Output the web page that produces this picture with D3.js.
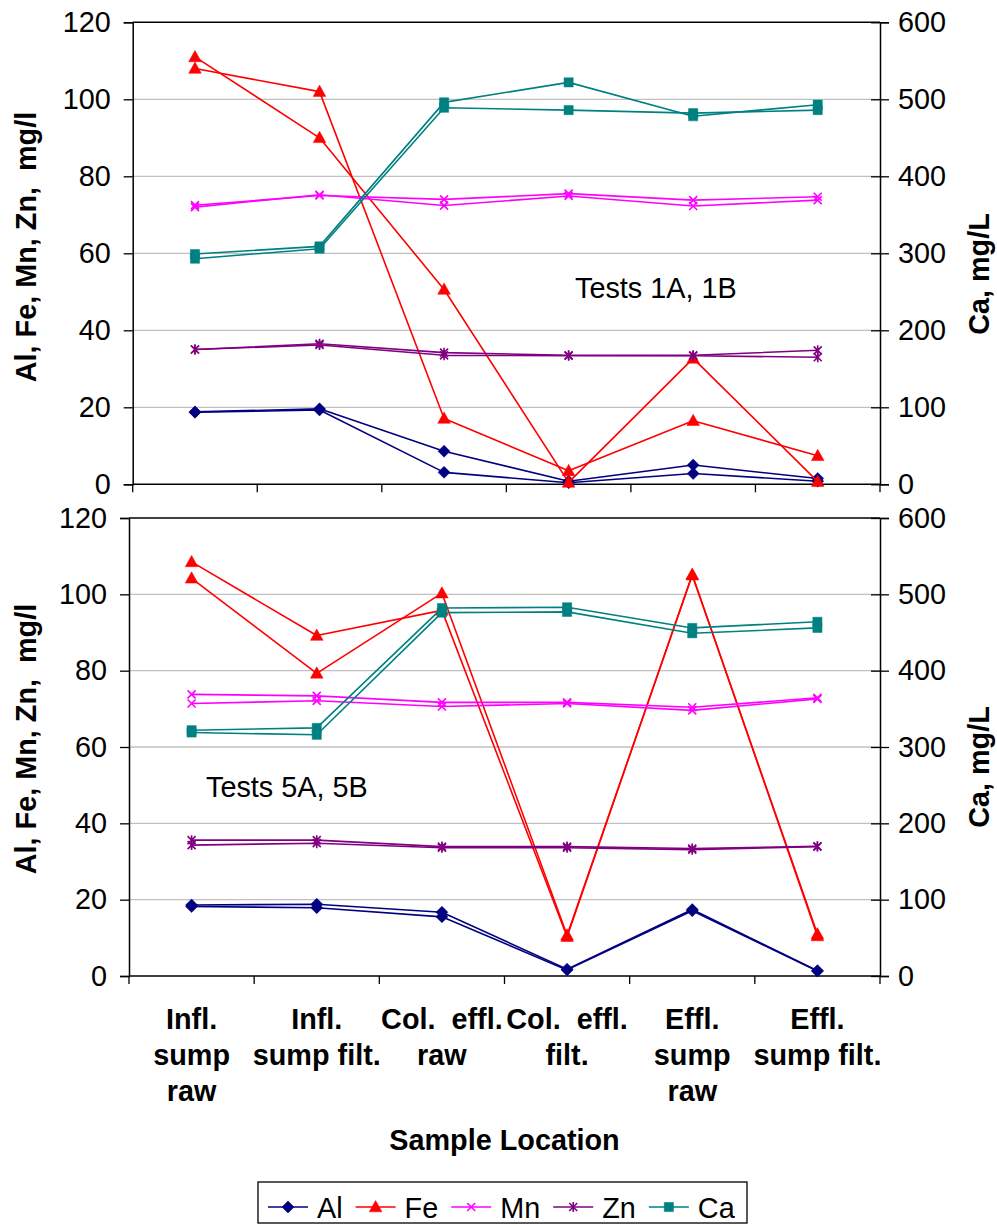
<!DOCTYPE html>
<html>
<head>
<meta charset="utf-8">
<script src="https://cdn.jsdelivr.net/npm/d3@7"></script>
<style>
  html, body { margin: 0; padding: 0; background: #fff; }
  svg { display: block; }
  text { font-family: "Liberation Sans", Arial, sans-serif; }
</style>
</head>
<body>
<script>
// ---------------- DATA ----------------
const categories = ["Infl. sump raw", "Infl. sump filt.", "Col. effl. raw", "Col. effl. filt.", "Effl. sump raw", "Effl. sump filt."];
const categoryLines = [["Infl.", "sump", "raw"], ["Infl.", "sump filt."], ["Col.  effl.", "raw"], ["Col.  effl.", "filt."], ["Effl.", "sump", "raw"], ["Effl.", "sump filt."]];
const seriesNames = ["Al", "Fe", "Mn", "Zn", "Ca"];
const leftTicks = [0, 20, 40, 60, 80, 100, 120];
const rightTicks = [0, 100, 200, 300, 400, 500, 600];

// Tests 1A, 1B (A and B runs)
const t1_Al_A = [18.8, 19.6, 8.6, 0.8, 5.0, 1.5];
const t1_Al_B = [18.7, 19.3, 3.1, 0.4, 2.8, 0.8];
const t1_Fe_A = [108, 102, 17.1, 3.5, 16.5, 7.4];
const t1_Fe_B = [111, 90, 50.6, 0.5, 32.7, 0.7];
const t1_Mn_A = [72.5, 75.0, 74.0, 75.5, 73.8, 74.7];
const t1_Mn_B = [72.0, 75.2, 72.4, 74.9, 72.3, 73.8];
const t1_Zn_A = [35.0, 36.5, 34.2, 33.5, 33.5, 34.8];
const t1_Zn_B = [35.0, 36.2, 33.5, 33.4, 33.4, 33.0];
const t1_Ca_A = [299, 309, 496, 522, 478, 493];
const t1_Ca_B = [293, 306, 489, 486, 482, 486];

// Tests 5A, 5B
const t5_Al_A = [18.6, 18.8, 16.7, 1.8, 17.4, 1.4];
const t5_Al_B = [18.2, 17.9, 15.5, 1.6, 17.1, 1.3];
const t5_Fe_A = [108.5, 89.2, 95.8, 10.3, 105.2, 10.5];
const t5_Fe_B = [104.2, 79.3, 100.3, 10.7, 105.0, 11.0];
const t5_Mn_A = [73.8, 73.4, 71.7, 71.7, 70.4, 72.9];
const t5_Mn_B = [71.4, 72.1, 70.6, 71.4, 69.6, 72.6];
const t5_Zn_A = [35.6, 35.6, 33.9, 33.9, 33.4, 34.0];
const t5_Zn_B = [34.3, 34.8, 33.6, 33.6, 33.1, 33.9];
const t5_Ca_A = [322, 325, 482, 483, 456, 464];
const t5_Ca_B = [319, 316, 476, 477, 449, 456];

// ---------------- STYLE / LAYOUT ----------------
const colors = { Al: "#000080", Fe: "#FF0000", Mn: "#FF00FF", Zn: "#800080", Ca: "#008080" };
const FS = 28.8;

const panels = [
  { x0: 132.7, x1: 880, y0: 22.3, y1: 484.3, label: "Tests 1A, 1B", lx: 575, ly: 298,
    leftTitleY: 247, rightTitleY: 274,
    series: { Al: [t1_Al_A, t1_Al_B], Fe: [t1_Fe_A, t1_Fe_B], Mn: [t1_Mn_A, t1_Mn_B], Zn: [t1_Zn_A, t1_Zn_B], Ca: [t1_Ca_A, t1_Ca_B] } },
  { x0: 129, x1: 880, y0: 518, y1: 976, label: "Tests 5A, 5B", lx: 206, ly: 797,
    leftTitleY: 739, rightTitleY: 767,
    series: { Al: [t5_Al_A, t5_Al_B], Fe: [t5_Fe_A, t5_Fe_B], Mn: [t5_Mn_A, t5_Mn_B], Zn: [t5_Zn_A, t5_Zn_B], Ca: [t5_Ca_A, t5_Ca_B] } }
];

// marker shapes
function markerPath(name) {
  switch (name) {
    case "Al": return "M0,-6L6,0L0,6L-6,0Z";
    case "Fe": return "M0,-6.5L6.3,4.8L-6.3,4.8Z";
    case "Mn": return "M-4,-4L4,4M-4,4L4,-4";
    case "Zn": return "M-4,-4L4,4M-4,4L4,-4M0,-5L0,5";
    case "Ca": return "M-4.6,-4.6H4.6V4.6H-4.6Z";
  }
}
function styleMarker(sel, name) {
  const c = colors[name];
  if (name === "Mn" || name === "Zn") sel.attr("fill", "none").attr("stroke", c).attr("stroke-width", 1.6);
  else sel.attr("fill", c).attr("stroke", c).attr("stroke-width", 0.5);
}

const svg = d3.select("body").append("svg").attr("width", 997).attr("height", 1226);

panels.forEach((p, pi) => {
  const x = d3.scaleBand().domain(categories).range([p.x0, p.x1]);
  const cx = d => x(d) + x.bandwidth() / 2;
  const yL = d3.scaleLinear().domain([0, 120]).range([p.y1, p.y0]);
  const yR = d3.scaleLinear().domain([0, 600]).range([p.y1, p.y0]);
  const g = svg.append("g");

  // gridlines
  g.selectAll("line.grid").data(leftTicks.filter(t => t > 0 && t < 120)).enter().append("line")
    .attr("x1", p.x0).attr("x2", p.x1).attr("y1", d => yL(d)).attr("y2", d => yL(d))
    .attr("stroke", "#c0c0c0").attr("stroke-width", 1.3);
  // plot border top
  g.append("line").attr("x1", p.x0).attr("x2", p.x1).attr("y1", p.y0).attr("y2", p.y0)
    .attr("stroke", "#000").attr("stroke-width", 1.5);

  // left axis
  const la = g.append("g").attr("transform", `translate(${p.x0},0)`)
    .call(d3.axisLeft(yL).tickValues(leftTicks).tickSize(9).tickPadding(13).tickFormat(d3.format("d")));
  la.select(".domain").attr("stroke", "#000").attr("stroke-width", 1.5);
  la.selectAll(".tick line").attr("stroke", "#000").attr("stroke-width", 1.3);
  la.selectAll(".tick text").attr("font-size", FS).attr("font-family", '"Liberation Sans", Arial, sans-serif').attr("fill", "#000");

  // right axis (ticks cross)
  const ra = g.append("g").attr("transform", `translate(${p.x1},0)`)
    .call(d3.axisRight(yR).tickValues(rightTicks).tickSize(9).tickPadding(9).tickFormat(d3.format("d")));
  ra.select(".domain").attr("stroke", "#000").attr("stroke-width", 1.5);
  ra.selectAll(".tick line").attr("stroke", "#000").attr("stroke-width", 1.3).attr("x1", -9);
  ra.selectAll(".tick text").attr("font-size", FS).attr("font-family", '"Liberation Sans", Arial, sans-serif').attr("fill", "#000");

  // bottom axis: ticks at category boundaries
  const bounds = categories.map(c => x(c)).concat([p.x1]);
  g.selectAll("line.xt").data(bounds).enter().append("line")
    .attr("x1", d => d).attr("x2", d => d).attr("y1", p.y1).attr("y2", p.y1 + 8)
    .attr("stroke", "#000").attr("stroke-width", 1.3);
  g.append("line").attr("x1", p.x0).attr("x2", p.x1).attr("y1", p.y1).attr("y2", p.y1)
    .attr("stroke", "#000").attr("stroke-width", 1.5);

  // axis titles
  g.append("text").attr("transform", `translate(36,${p.leftTitleY}) rotate(-90)`)
    .attr("text-anchor", "middle").attr("font-weight", "bold").attr("font-size", FS)
    .style("white-space", "pre").text("Al, Fe, Mn, Zn,  mg/l");
  g.append("text").attr("transform", `translate(989,${p.rightTitleY}) rotate(-90)`)
    .attr("text-anchor", "middle").attr("font-weight", "bold").attr("font-size", FS)
    .text("Ca, mg/L");

  // series
  const clip = "clip" + pi;
  svg.append("clipPath").attr("id", clip).append("rect")
    .attr("x", p.x0 - 10).attr("y", p.y0 - 10).attr("width", p.x1 - p.x0 + 20).attr("height", p.y1 - p.y0 + 20);
  const sg = g.append("g").attr("clip-path", `url(#${clip})`);
  seriesNames.forEach(name => {
    const ys = name === "Ca" ? yR : yL;
    p.series[name].forEach(vals => {
      const pts = vals.map((v, i) => [cx(categories[i]), ys(v)]);
      sg.append("path").attr("d", d3.line()(pts)).attr("fill", "none")
        .attr("stroke", colors[name]).attr("stroke-width", 1.6).attr("stroke-linejoin", "round");
      sg.selectAll(null).data(pts).enter().append("path")
        .attr("transform", d => `translate(${d[0]},${d[1]})`)
        .attr("d", markerPath(name))
        .call(styleMarker, name);
    });
  });

  // panel label
  g.append("text").attr("x", p.lx).attr("y", p.ly).attr("font-size", FS).text(p.label);

  // category labels below bottom panel
  if (pi === panels.length - 1) {
    categoryLines.forEach((lines, i) => {
      const t = g.append("text").attr("text-anchor", "middle").attr("font-weight", "bold")
        .attr("font-size", FS).style("white-space", "pre");
      lines.forEach((ln, j) => {
        t.append("tspan").attr("x", cx(categories[i])).attr("y", 1029 + j * 36).text(ln);
      });
    });
    g.append("text").attr("x", (p.x0 + p.x1) / 2).attr("y", 1150).attr("text-anchor", "middle")
      .attr("font-weight", "bold").attr("font-size", FS).text("Sample Location");
  }
});

// legend
const lg = svg.append("g");
lg.append("rect").attr("x", 258).attr("y", 1182).attr("width", 489).attr("height", 41)
  .attr("fill", "#fff").attr("stroke", "#000").attr("stroke-width", 1.3);
let lx = 268;
const ly = 1207;
seriesNames.forEach(name => {
  lg.append("line").attr("x1", lx).attr("x2", lx + 40).attr("y1", ly).attr("y2", ly)
    .attr("stroke", colors[name]).attr("stroke-width", 1.6);
  lg.append("path").attr("transform", `translate(${lx + 20},${ly})`)
    .attr("d", markerPath(name)).call(styleMarker, name);
  const t = lg.append("text").attr("x", lx + 49).attr("y", ly + 10.5).attr("font-size", FS).text(name);
  lx = lx + 49 + t.node().getComputedTextLength() + 13;
});
</script>
</body>
</html>
